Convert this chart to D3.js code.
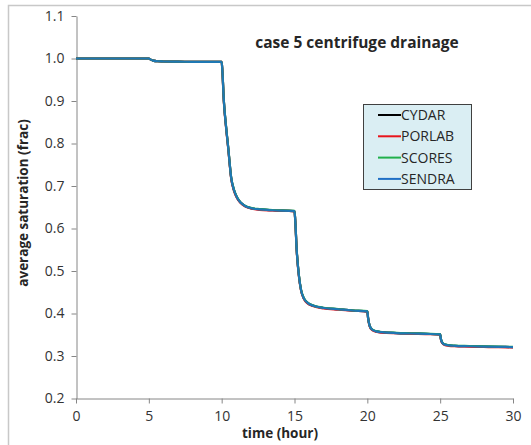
<!DOCTYPE html>
<html><head><meta charset="utf-8">
<script src="https://cdn.jsdelivr.net/npm/d3@7"></script>
<style>body{margin:0;background:#fff;} svg{display:block;}</style>
</head><body>
<svg id="c" width="531" height="445"></svg>
<script>
const seriesNames = ["CYDAR", "PORLAB", "SCORES", "SENDRA"];
const seriesColors = ["#000000", "#E8141B", "#20B04B", "#1F6FC5"];
const time = [0,5,5.1,5.3,5.6,6,7,8,9,10,
  10.05,10.15,10.3,10.45,10.65,10.85,11.05,11.3,11.6,12,12.6,13.5,15,
  15.05,15.15,15.3,15.45,15.65,15.9,16.3,17,18,19,20,
  20.05,20.15,20.3,20.6,21,22,23,24,25,
  25.05,25.15,25.3,25.6,26,27,28,29,30];
const cydar = [1.0,1.0,0.998,0.995,0.9935,0.993,0.9925,0.9922,0.992,0.992,
  0.97,0.90,0.84,0.79,0.72,0.69,0.673,0.661,0.653,0.648,0.645,0.643,0.641,
  0.62,0.55,0.49,0.455,0.435,0.425,0.418,0.413,0.41,0.407,0.405,
  0.39,0.372,0.363,0.358,0.356,0.354,0.353,0.352,0.351,
  0.34,0.331,0.327,0.325,0.324,0.323,0.322,0.3215,0.321];
const porlab = [1.0,1.0,0.998,0.995,0.9935,0.993,0.9925,0.9922,0.992,0.992,
  0.969,0.898,0.838,0.788,0.718,0.688,0.672,0.66,0.652,0.647,0.644,0.6425,0.6405,
  0.619,0.548,0.488,0.454,0.434,0.4235,0.417,0.412,0.409,0.4065,0.4045,
  0.389,0.371,0.362,0.357,0.355,0.3535,0.3525,0.3515,0.3505,
  0.339,0.330,0.326,0.324,0.323,0.3222,0.3213,0.3207,0.3203];
const scores = [1.0,1.0,0.998,0.995,0.9935,0.993,0.9925,0.9922,0.992,0.992,
  0.9705,0.901,0.841,0.791,0.721,0.691,0.674,0.6615,0.6535,0.6485,0.6455,0.6435,0.6415,
  0.6205,0.551,0.491,0.456,0.436,0.4255,0.4185,0.4135,0.4105,0.4075,0.4055,
  0.3905,0.3725,0.3635,0.3585,0.3565,0.3545,0.3535,0.3525,0.3515,
  0.3405,0.3315,0.3275,0.3255,0.3245,0.3235,0.3225,0.322,0.3215];
const sendra = [1.0,1.0,0.998,0.995,0.9935,0.993,0.9925,0.9922,0.992,0.992,
  0.97,0.90,0.84,0.79,0.72,0.69,0.673,0.661,0.653,0.648,0.645,0.643,0.641,
  0.62,0.55,0.49,0.455,0.435,0.425,0.418,0.413,0.41,0.407,0.405,
  0.39,0.372,0.363,0.358,0.356,0.354,0.353,0.352,0.351,
  0.34,0.331,0.327,0.325,0.324,0.323,0.322,0.3215,0.321];
const seriesValues = [cydar, porlab, scores, sendra];
const xTicks = [0,5,10,15,20,25,30];
const yTicks = [0.2,0.3,0.4,0.5,0.6,0.7,0.8,0.9,1.0,1.1];
const titleText = "case 5 centrifuge drainage";
const xLabel = "time (hour)";
const yLabel = "average saturation (frac)";

const svg = d3.select("#c");
const font = "'Open Sans', sans-serif";
// outer chart border (cropped)
svg.append("path").attr("d","M8.5,445 L8.5,5.5 L531,5.5").attr("fill","none").attr("stroke","#c8c8c8").attr("stroke-width",1.5);

const x = d3.scaleLinear().domain([0,30]).range([76,513]);
const y = d3.scaleLinear().domain([0.2,1.1]).range([398.5,16]);

const axisColor = "#868686";
const gx = svg.append("g").attr("transform","translate(0,398.5)")
  .call(d3.axisBottom(x).tickValues(xTicks).tickFormat(d3.format("d")).tickSize(5).tickSizeOuter(0));
const gy = svg.append("g").attr("transform","translate(76.5,0)")
  .call(d3.axisLeft(y).tickValues(yTicks).tickFormat(d3.format(".1f")).tickSize(5).tickSizeOuter(0));
[gx,gy].forEach(g=>{
  g.selectAll("path,line").attr("stroke",axisColor);
  g.selectAll("text").attr("fill","#333333").style("font-family",font).style("font-size","14px");
});
gx.selectAll("text").attr("dy","1.05em");
gy.selectAll("text").attr("x",-12);

const line = d3.line().x((d,i)=>x(time[i])).y(d=>y(d)).curve(d3.curveMonotoneX);
seriesValues.forEach((vals,k)=>{
  svg.append("path").datum(vals).attr("d",line).attr("fill","none")
    .attr("stroke",seriesColors[k]).attr("stroke-width",2.2).attr("stroke-opacity",k===3?0.85:1);
});

svg.append("text").attr("x",357).attr("y",48).attr("text-anchor","middle")
  .style("font-family",font).style("font-weight","bold").style("font-size","15.5px").attr("fill","#262626").text(titleText);
svg.append("text").attr("x",280).attr("y",438).attr("text-anchor","middle")
  .style("font-family",font).style("font-weight","bold").style("font-size","13.5px").attr("fill","#262626").text(xLabel);
svg.append("text").attr("transform","translate(28,203) rotate(-90)").attr("text-anchor","middle")
  .style("font-family",font).style("font-weight","bold").style("font-size","13.5px").attr("fill","#262626").text(yLabel);

// legend
const lg = svg.append("g");
lg.append("rect").attr("x",363.5).attr("y",104.5).attr("width",108).attr("height",85)
  .attr("fill","#DAEEF3").attr("stroke","#404040").attr("stroke-width",1);
seriesNames.forEach((n,i)=>{
  const yy = 115 + i*21.3;
  lg.append("line").attr("x1",378).attr("x2",401).attr("y1",yy).attr("y2",yy).attr("stroke",seriesColors[i]).attr("stroke-width",2);
  lg.append("text").attr("x",401).attr("y",yy).attr("dy","0.36em").style("font-family",font).style("font-size","14px").attr("fill","#262626").text(n);
});
</script>
</body></html>
